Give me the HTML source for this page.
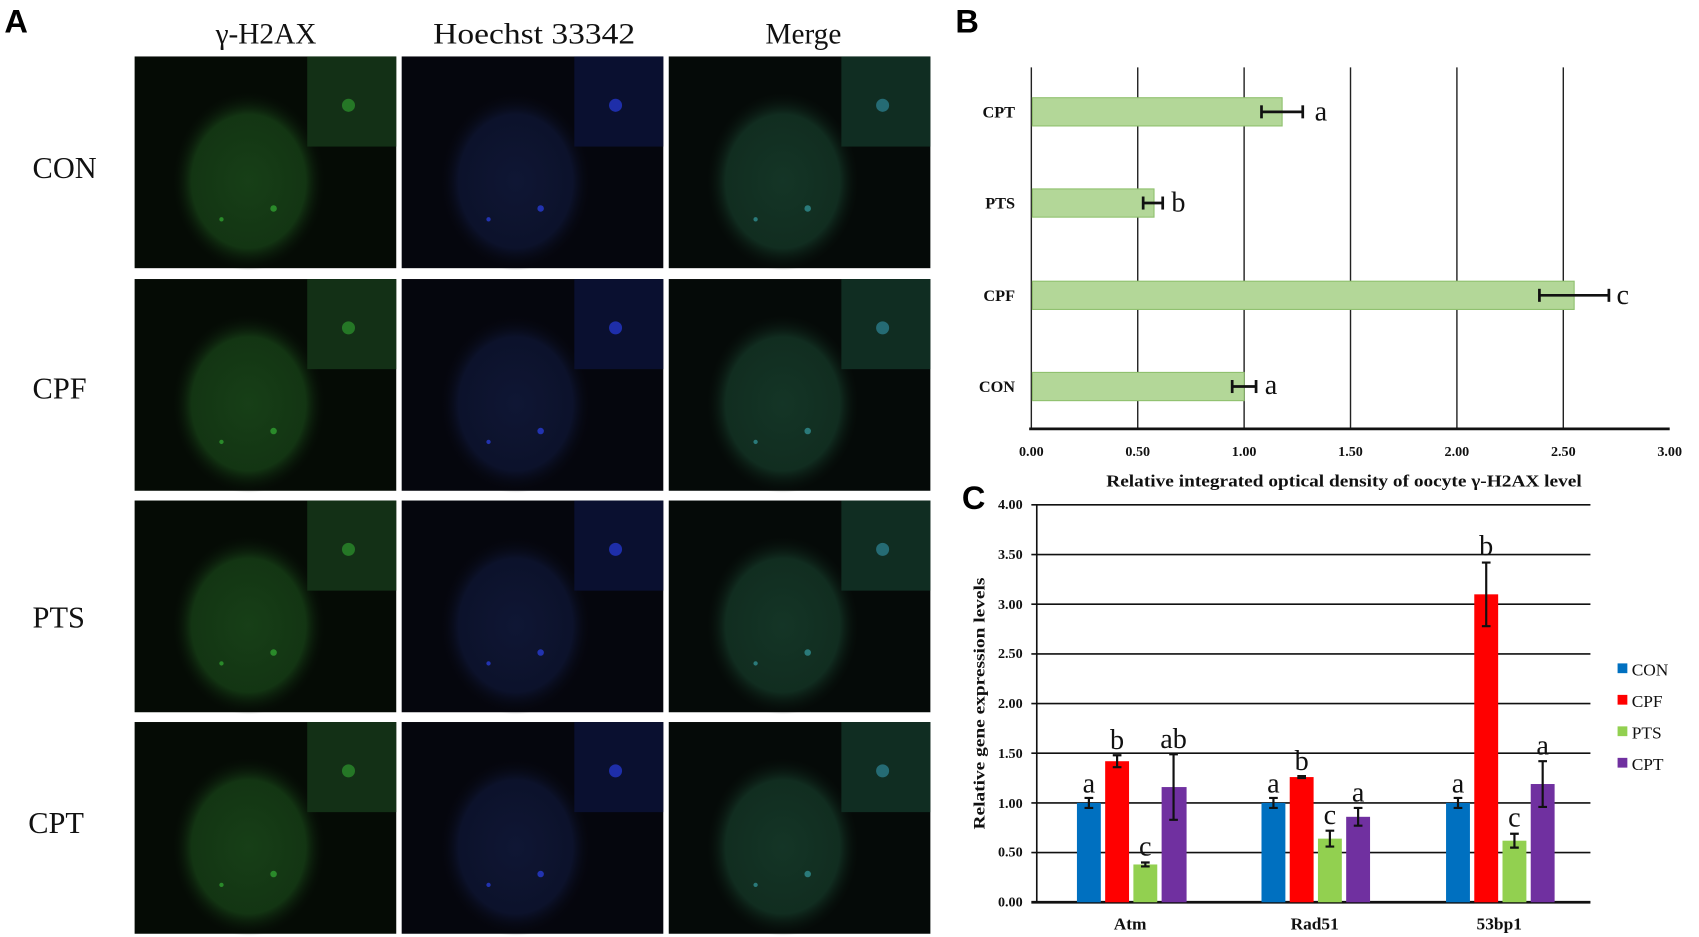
<!DOCTYPE html>
<html><head><meta charset="utf-8"><style>
html,body{margin:0;padding:0;background:#fff;}
svg{display:block;}
.s{font-family:"Liberation Serif",serif;}
</style></head><body>
<svg width="1699" height="937" viewBox="0 0 1565 863" preserveAspectRatio="none" xmlns="http://www.w3.org/2000/svg">
<defs>
<radialGradient id="gg" cx="0.5" cy="0.5" r="0.5"><stop offset="0" stop-color="#173f17"/><stop offset="0.75" stop-color="#133513"/><stop offset="1" stop-color="#081208" stop-opacity="0"/></radialGradient>
<radialGradient id="gb" cx="0.5" cy="0.5" r="0.5"><stop offset="0" stop-color="#0f1634"/><stop offset="0.75" stop-color="#0c122b"/><stop offset="1" stop-color="#06070f" stop-opacity="0"/></radialGradient>
<radialGradient id="gm" cx="0.5" cy="0.5" r="0.5"><stop offset="0" stop-color="#143526"/><stop offset="0.75" stop-color="#112d20"/><stop offset="1" stop-color="#08110c" stop-opacity="0"/></radialGradient>
<g id="c1"><rect width="241" height="195" fill="#050b05"/><ellipse cx="105" cy="115" rx="70" ry="82" fill="url(#gg)"/><rect x="159" y="0" width="82" height="83" fill="#133016"/><circle cx="197" cy="45" r="6" fill="#2a8a2a" opacity="0.8"/><circle cx="128" cy="140" r="3" fill="#2a8a2a"/><circle cx="80" cy="150" r="2" fill="#2a8a2a"/></g>
<g id="c2"><rect width="241" height="195" fill="#05060d"/><ellipse cx="105" cy="115" rx="70" ry="82" fill="url(#gb)"/><rect x="159" y="0" width="82" height="83" fill="#0a1030"/><circle cx="197" cy="45" r="6" fill="#2336c8" opacity="0.8"/><circle cx="128" cy="140" r="3" fill="#2233b0"/><circle cx="80" cy="150" r="2" fill="#2233b0"/></g>
<g id="c3"><rect width="241" height="195" fill="#050a08"/><ellipse cx="105" cy="115" rx="70" ry="82" fill="url(#gm)"/><rect x="159" y="0" width="82" height="83" fill="#102d22"/><circle cx="197" cy="45" r="6" fill="#2a7a8a" opacity="0.8"/><circle cx="128" cy="140" r="3" fill="#2a7a7a"/><circle cx="80" cy="150" r="2" fill="#2a7a7a"/></g>
</defs>
<text x="4" y="30" font-family="Liberation Sans,sans-serif" font-weight="bold" font-size="30">A</text>
<g class="s" font-size="27" text-anchor="middle" fill="#111">
<text x="245" y="40">γ-H2AX</text><text x="492" y="40" textLength="186" lengthAdjust="spacingAndGlyphs">Hoechst 33342</text><text x="740" y="40">Merge</text>
</g>
<g class="s" font-size="28" fill="#111">
<text x="30" y="164">CON</text><text x="30" y="367">CPF</text><text x="30" y="578">PTS</text><text x="26" y="767">CPT</text>
</g>
<use href="#c1" x="124" y="52"/><use href="#c2" x="370" y="52"/><use href="#c3" x="616" y="52"/>
<use href="#c1" x="124" y="257"/><use href="#c2" x="370" y="257"/><use href="#c3" x="616" y="257"/>
<use href="#c1" x="124" y="461"/><use href="#c2" x="370" y="461"/><use href="#c3" x="616" y="461"/>
<use href="#c1" x="124" y="665"/><use href="#c2" x="370" y="665"/><use href="#c3" x="616" y="665"/>

<!-- Panel B -->
<text x="880" y="30" font-family="Liberation Sans,sans-serif" font-weight="bold" font-size="30">B</text>
<g stroke="#222" stroke-width="1.3">
<line x1="950" y1="62" x2="950" y2="395"/><line x1="1048" y1="62" x2="1048" y2="395"/><line x1="1146" y1="62" x2="1146" y2="395"/><line x1="1244" y1="62" x2="1244" y2="395"/><line x1="1342" y1="62" x2="1342" y2="395"/><line x1="1440" y1="62" x2="1440" y2="395"/>
</g>
<line x1="948" y1="395" x2="1538" y2="395" stroke="#111" stroke-width="2.5"/>
<g fill="#b3d798" stroke="#8fc06d" stroke-width="1">
<rect x="951" y="90" width="230" height="26"/><rect x="951" y="174" width="112" height="26"/><rect x="951" y="259" width="499" height="26"/><rect x="951" y="343" width="195" height="26"/>
</g>
<g stroke="#111" stroke-width="2.5">
<line x1="1162" y1="103" x2="1200" y2="103"/><line x1="1162" y1="97" x2="1162" y2="109"/><line x1="1200" y1="97" x2="1200" y2="109"/>
<line x1="1053" y1="187" x2="1071" y2="187"/><line x1="1053" y1="181" x2="1053" y2="193"/><line x1="1071" y1="181" x2="1071" y2="193"/>
<line x1="1418" y1="272" x2="1482" y2="272"/><line x1="1418" y1="266" x2="1418" y2="278"/><line x1="1482" y1="266" x2="1482" y2="278"/>
<line x1="1135" y1="356" x2="1157" y2="356"/><line x1="1135" y1="350" x2="1135" y2="362"/><line x1="1157" y1="350" x2="1157" y2="362"/>
</g>
<g class="s" font-size="26" fill="#111">
<text x="1211" y="111">a</text><text x="1079" y="195">b</text><text x="1489" y="280">c</text><text x="1165" y="363">a</text>
</g>
<g class="s" font-size="15" font-weight="bold" text-anchor="end" fill="#111">
<text x="935" y="108">CPT</text><text x="935" y="192">PTS</text><text x="935" y="277">CPF</text><text x="935" y="361">CON</text>
</g>
<g class="s" font-size="13" font-weight="bold" text-anchor="middle" fill="#111">
<text x="950" y="420">0.00</text><text x="1048" y="420">0.50</text><text x="1146" y="420">1.00</text><text x="1244" y="420">1.50</text><text x="1342" y="420">2.00</text><text x="1440" y="420">2.50</text><text x="1538" y="420">3.00</text>
</g>
<text x="1238" y="448" class="s" font-size="16" font-weight="bold" text-anchor="middle" fill="#111" textLength="438" lengthAdjust="spacingAndGlyphs">Relative integrated optical density of oocyte γ-H2AX level</text>

<!-- Panel C -->
<text x="886" y="469" font-family="Liberation Sans,sans-serif" font-weight="bold" font-size="30">C</text>
<g stroke="#111" stroke-width="1.5">
<line x1="950" y1="465" x2="1465" y2="465"/><line x1="950" y1="510.75" x2="1465" y2="510.75"/><line x1="950" y1="556.5" x2="1465" y2="556.5"/><line x1="950" y1="602.25" x2="1465" y2="602.25"/><line x1="950" y1="648" x2="1465" y2="648"/><line x1="950" y1="693.75" x2="1465" y2="693.75"/><line x1="950" y1="739.5" x2="1465" y2="739.5"/><line x1="950" y1="785.25" x2="1465" y2="785.25"/>
<line x1="955" y1="465" x2="955" y2="831"/>
</g>
<line x1="950" y1="831" x2="1465" y2="831" stroke="#111" stroke-width="2.5"/>
<g class="s" font-size="13" font-weight="bold" text-anchor="end" fill="#111">
<text x="942" y="469">4.00</text><text x="942" y="515">3.50</text><text x="942" y="561">3.00</text><text x="942" y="606">2.50</text><text x="942" y="652">2.00</text><text x="942" y="698">1.50</text><text x="942" y="744">1.00</text><text x="942" y="789">0.50</text><text x="942" y="835">0.00</text>
</g>
<text transform="translate(907,648) rotate(-90)" class="s" font-size="15" font-weight="bold" text-anchor="middle" fill="#111" textLength="232" lengthAdjust="spacingAndGlyphs">Relative gene expression levels</text>
<g>
<rect x="992" y="739.5" width="22" height="91.5" fill="#0070c0"/>
<rect x="1018" y="701.1" width="22" height="129.9" fill="#ff0000"/>
<rect x="1044" y="796.2" width="22" height="34.8" fill="#92d050"/>
<rect x="1070" y="724.9" width="23" height="106.1" fill="#7030a0"/>
<rect x="1162" y="739.5" width="22" height="91.5" fill="#0070c0"/>
<rect x="1188" y="715.7" width="22" height="115.3" fill="#ff0000"/>
<rect x="1214" y="772.4" width="22" height="58.6" fill="#92d050"/>
<rect x="1240" y="752.3" width="22" height="78.7" fill="#7030a0"/>
<rect x="1332" y="739.5" width="22" height="91.5" fill="#0070c0"/>
<rect x="1358" y="547.4" width="22" height="283.6" fill="#ff0000"/>
<rect x="1384" y="774.3" width="22" height="56.7" fill="#92d050"/>
<rect x="1410" y="722.1" width="22" height="108.9" fill="#7030a0"/>
</g>
<g stroke="#111" stroke-width="2">
<path d="M1003 734.9V744.1M999 734.9H1007M999 744.1H1007"/>
<path d="M1029 695.6V706.6M1025 695.6H1033M1025 706.6H1033"/>
<path d="M1055 794.4V798M1051 794.4H1059M1051 798H1059"/>
<path d="M1081 694.7V755.1M1077 694.7H1085M1077 755.1H1085"/>
<path d="M1173 734.9V744.1M1169 734.9H1177M1169 744.1H1177"/>
<path d="M1199 714.8V716.6M1195 714.8H1203M1195 716.6H1203"/>
<path d="M1225 765.1V779.7M1221 765.1H1229M1221 779.7H1229"/>
<path d="M1251 744.1V760.5M1247 744.1H1255M1247 760.5H1255"/>
<path d="M1343 734.9V744.1M1339 734.9H1347M1339 744.1H1347"/>
<path d="M1369 518.1V576.7M1365 518.1H1373M1365 576.7H1373"/>
<path d="M1395 767.9V780.7M1391 767.9H1399M1391 780.7H1399"/>
<path d="M1421 701.1V743.2M1417 701.1H1425M1417 743.2H1425"/>
</g>
<g class="s" font-size="26" text-anchor="middle" fill="#111">
<text x="1003" y="730">a</text><text x="1029" y="690">b</text><text x="1055" y="788">c</text><text x="1081" y="689">ab</text>
<text x="1173" y="730">a</text><text x="1199" y="709">b</text><text x="1225" y="759">c</text><text x="1251" y="738">a</text>
<text x="1343" y="730">a</text><text x="1369" y="511">b</text><text x="1395" y="761">c</text><text x="1421" y="695">a</text>
</g>
<g class="s" font-size="16" font-weight="bold" text-anchor="middle" fill="#111">
<text x="1041" y="856">Atm</text><text x="1211" y="856">Rad51</text><text x="1381" y="856">53bp1</text>
</g>
<rect x="1490" y="611" width="9" height="9" fill="#0070c0"/><rect x="1490" y="640" width="9" height="9" fill="#ff0000"/><rect x="1490" y="669" width="9" height="9" fill="#92d050"/><rect x="1490" y="698" width="9" height="9" fill="#7030a0"/>
<g class="s" font-size="16" fill="#111">
<text x="1503" y="622">CON</text><text x="1503" y="651">CPF</text><text x="1503" y="680">PTS</text><text x="1503" y="709">CPT</text>
</g>
</svg>
</body></html>
